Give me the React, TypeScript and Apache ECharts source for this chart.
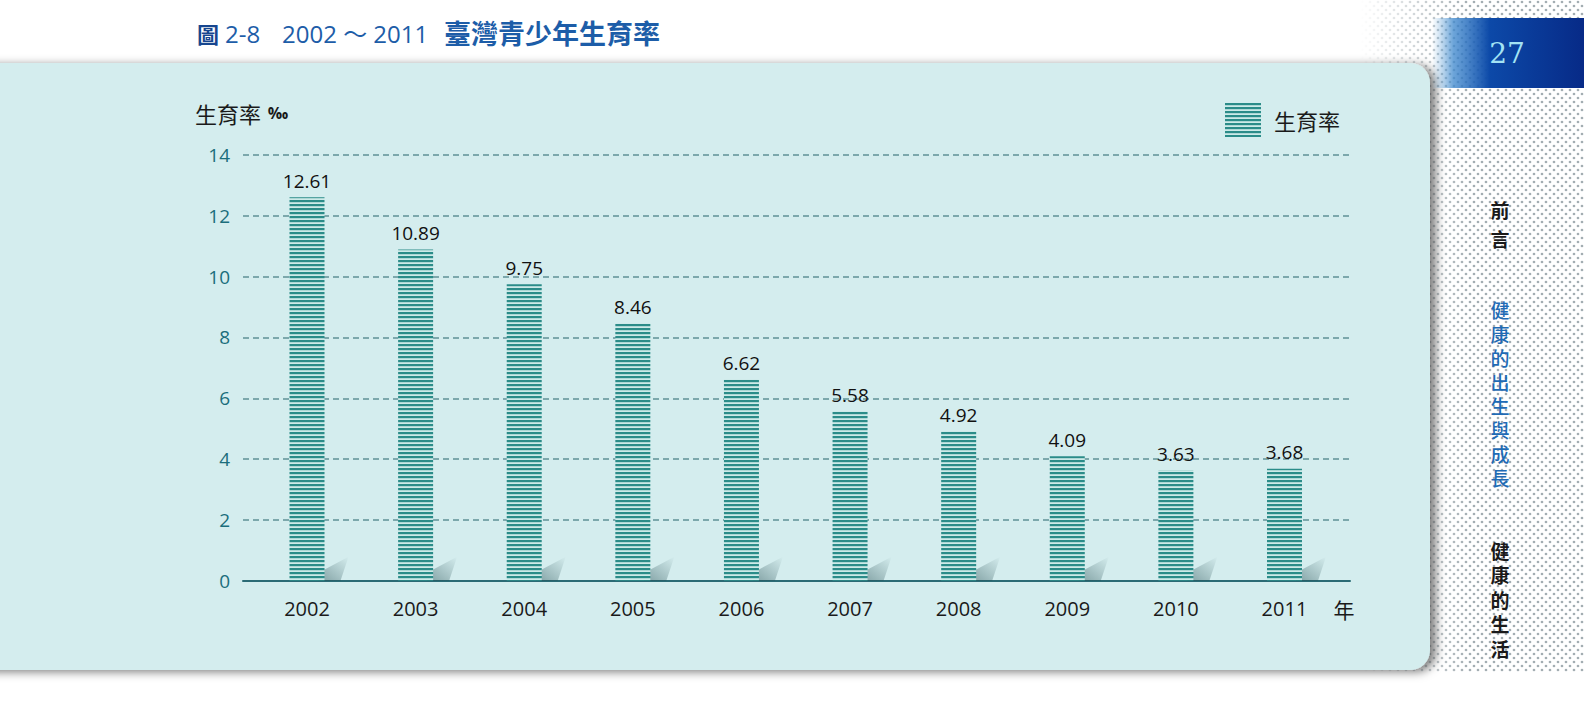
import React, { useEffect, useRef } from 'react';
import * as echarts from 'echarts';

// ---- data ----
const years = ['2002', '2003', '2004', '2005', '2006', '2007', '2008', '2009', '2010', '2011'];
const rates = [12.61, 10.89, 9.75, 8.46, 6.62, 5.58, 4.92, 4.09, 3.63, 3.68];
const yMin = 0;
const yMax = 14;
const yStep = 2;
const seriesName = '生育率';
const yAxisName = '生育率';
const yAxisUnit = '‰';
const xAxisUnit = '年';
const titleFig = '圖';
const titleNum = '2-8';
const titleRange = '2002 ～ 2011';
const titleText = '臺灣青少年生育率';
const pageNumber = '27';
const sideA = ['前', '言'];
const sideB = ['健', '康', '的', '出', '生', '與', '成', '長'];
const sideC = ['健', '康', '的', '生', '活'];

const LATIN = "'Open Sans', 'Noto Sans CJK TC', sans-serif";
const CJK = "'Noto Sans CJK TC', 'Noto Sans', sans-serif";

const svgUrl = (s: string) => 'data:image/svg+xml;charset=utf-8,' + encodeURIComponent(s);

const stripe = {
  image: svgUrl(
    "<svg xmlns='http://www.w3.org/2000/svg' width='4' height='4'><rect width='4' height='4' fill='#cdeae8'/><rect width='4' height='2.2' fill='#2b8c89'/></svg>"
  ),
  repeat: 'repeat',
  imageWidth: 4,
  imageHeight: 4,
};

const dots = {
  image: svgUrl(
    "<svg xmlns='http://www.w3.org/2000/svg' width='8' height='8'><circle cx='2' cy='2' r='1.35' fill='#a3adb2'/><circle cx='6' cy='6' r='1.35' fill='#a3adb2'/></svg>"
  ),
  repeat: 'repeat',
  imageWidth: 8,
  imageHeight: 8,
};

export default function App() {
  const ref = useRef<HTMLDivElement>(null);
  useEffect(() => {
    if (!ref.current) return;
    const chart = echarts.init(ref.current, null, { renderer: 'svg' });
    const gridTop = 155;
    const gridBottom = 131.3;

    const renderShadow = (params: any, api: any) => {
      const p = api.coord([api.value(0), 0]);
      const xr = p[0] + 17.5;
      const y0 = p[1];
      return {
        type: 'polygon',
        shape: {
          points: [
            [xr - 6, y0],
            [xr - 6, y0 - 8],
            [xr + 24, y0 - 24],
            [xr + 16, y0],
          ],
        },
        style: {
          fill: {
            type: 'linear', x: 0, y: 1, x2: 1, y2: 0,
            colorStops: [
              { offset: 0, color: 'rgba(30,70,75,0.45)' },
              { offset: 1, color: 'rgba(30,70,75,0)' },
            ],
          },
        },
      };
    };

    const sideText = (chars: string[], top: number, color: string, lh: number, weight: string) =>
      chars.map((c, i) => ({
        type: 'text',
        x: 1500,
        y: top + i * lh,
        z: 10,
        style: {
          text: c,
          fontSize: 19,
          fontFamily: CJK,
          fontWeight: weight,
          fill: color,
          align: 'center',
          verticalAlign: 'middle',
        },
      }));

    chart.setOption({
      animation: false,
      graphic: [
        { type: 'rect', z: -30, shape: { x: 1360, y: 0, width: 230, height: 672 }, style: { fill: dots } },
        {
          type: 'rect', z: -29, shape: { x: 1360, y: 0, width: 110, height: 672 },
          style: {
            fill: {
              type: 'linear', x: 0, y: 0, x2: 1, y2: 0,
              colorStops: [
                { offset: 0, color: 'rgba(255,255,255,1)' },
                { offset: 1, color: 'rgba(255,255,255,0)' },
              ],
            },
          },
        },
        {
          type: 'rect', z: -20,
          shape: { x: -20, y: 63, width: 1450, height: 607, r: [0, 20, 20, 0] },
          style: { fill: '#d4edee', shadowColor: 'rgba(0,0,0,0.5)', shadowBlur: 10, shadowOffsetX: 6, shadowOffsetY: 2 },
        },
        {
          type: 'rect', z: -20,
          shape: { x: 1432, y: 18, width: 152, height: 70 },
          style: {
            fill: {
              type: 'linear', x: 0, y: 0, x2: 1, y2: 0,
              colorStops: [
                { offset: 0, color: 'rgba(90,160,215,0)' },
                { offset: 0.14, color: 'rgba(60,135,205,0.75)' },
                { offset: 0.38, color: '#0c49a8' },
                { offset: 1, color: '#072a87' },
              ],
            },
          },
        },
        {
          type: 'text', x: 1507, y: 53, z: 10,
          style: { text: pageNumber, fontSize: 28, fontFamily: "'DejaVu Serif', 'Liberation Serif', serif", fill: '#a3e3f4', align: 'center', verticalAlign: 'middle' },
        },
        {
          type: 'text', x: 197, y: 33, z: 10,
          style: { text: titleFig, fontSize: 22, fontWeight: 'bold', fontFamily: CJK, fill: '#17468f', align: 'left', verticalAlign: 'middle' },
        },
        {
          type: 'text', x: 225, y: 33, z: 10,
          style: { text: titleNum, fontSize: 24, fontFamily: LATIN, fill: '#1d5da8', align: 'left', verticalAlign: 'middle' },
        },
        {
          type: 'text', x: 282, y: 33, z: 10,
          style: { text: titleRange, fontSize: 24, fontFamily: LATIN, fill: '#1d5da8', align: 'left', verticalAlign: 'middle' },
        },
        {
          type: 'text', x: 444, y: 32, z: 10,
          style: { text: titleText, fontSize: 27, fontWeight: 'bold', fontFamily: CJK, fill: '#1d5da8', align: 'left', verticalAlign: 'middle' },
        },
        {
          type: 'text', x: 195, y: 113, z: 10,
          style: {
            text: '{a|' + yAxisName + '}  {b|' + yAxisUnit + '}',
            align: 'left', verticalAlign: 'middle',
            rich: {
              a: { fontSize: 22, fontFamily: CJK, fill: '#1a1a1a', color: '#1a1a1a' },
              b: { fontSize: 16, fontWeight: 'bold', fontFamily: LATIN, fill: '#1a1a1a', color: '#1a1a1a' },
            },
          },
        },
        {
          type: 'text', x: 1344, y: 609, z: 10,
          style: { text: xAxisUnit, fontSize: 21, fontFamily: CJK, fill: '#1a1a1a', align: 'center', verticalAlign: 'middle' },
        },
        ...sideText(sideA, 209, '#1a1a1a', 29, 'bold'),
        ...sideText(sideB, 309, '#1f6bb5', 24, '500'),
        ...sideText(sideC, 550, '#1a1a1a', 24.5, 'bold'),
      ],
      legend: {
        data: [{ name: seriesName, icon: 'rect' }],
        left: 1220,
        top: 98,
        itemWidth: 36,
        itemHeight: 34,
        textStyle: { fontSize: 22, color: '#1a1a1a', fontFamily: CJK, padding: [0, 0, 0, 8] },
      },
      grid: [
        { left: 252.7, right: 245.2, top: gridTop, bottom: gridBottom },
        { left: 243, right: 234, top: gridTop, bottom: gridBottom },
      ],
      xAxis: [
        {
          type: 'category', gridIndex: 0, data: years,
          axisLine: { show: false }, axisTick: { show: false },
          axisLabel: { margin: 18, fontSize: 20, color: '#1a1a1a', fontFamily: LATIN },
        },
        {
          type: 'value', gridIndex: 1, min: 0, max: 1,
          axisLine: { show: true, lineStyle: { color: '#2b6b75', width: 2 } },
          axisTick: { show: false }, axisLabel: { show: false }, splitLine: { show: false },
        },
      ],
      yAxis: [
        { type: 'value', gridIndex: 0, min: yMin, max: yMax, interval: yStep, show: false, splitLine: { show: false } },
        {
          type: 'value', gridIndex: 1, min: yMin, max: yMax, interval: yStep,
          axisLine: { show: false }, axisTick: { show: false },
          axisLabel: { margin: 13, fontSize: 19, color: '#1b6e7c', fontFamily: LATIN },
          splitLine: { lineStyle: { type: [6, 4], color: '#5f9196', width: 1.5 } },
        },
      ],
      series: [
        {
          type: 'custom', xAxisIndex: 0, yAxisIndex: 0, z: 1, silent: true,
          data: rates.map((v, i) => [i, v]),
          renderItem: renderShadow,
        },
        {
          name: seriesName, type: 'bar', xAxisIndex: 0, yAxisIndex: 0, z: 2,
          data: rates, barWidth: 35,
          itemStyle: { color: stripe },
          label: { show: true, position: 'top', distance: 7, fontSize: 19, color: '#111', fontFamily: LATIN },
        },
      ],
    });
    return () => chart.dispose();
  }, []);
  return (
    <div
      ref={ref}
      style={{ position: 'fixed', left: 0, top: 0, width: 1584, height: 712, background: '#fff' }}
    />
  );
}
